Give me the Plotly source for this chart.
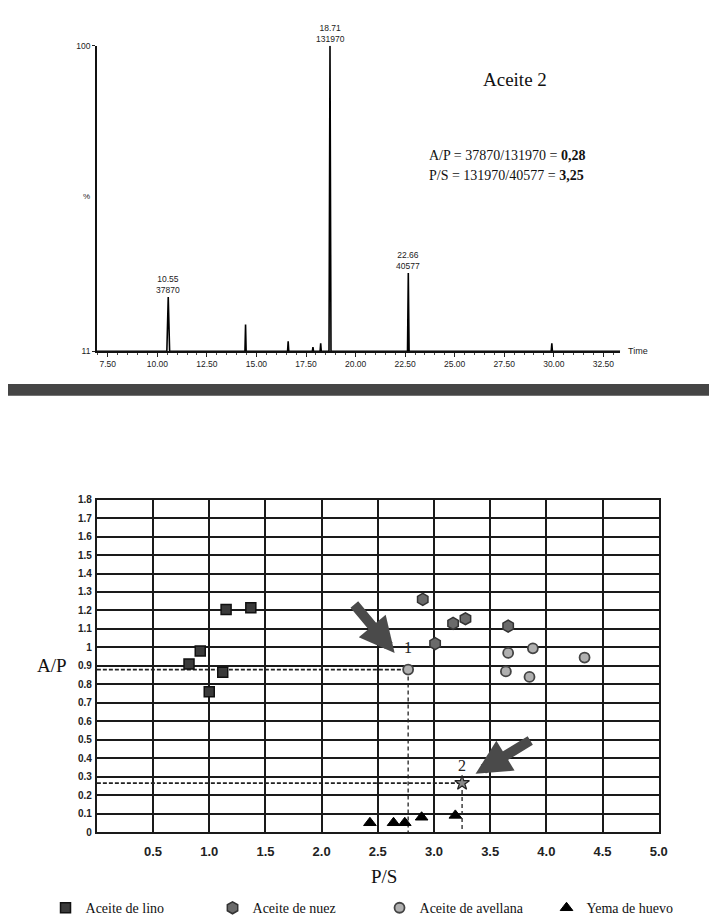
import plotly.graph_objects as go

W, H = 717, 921

# ---------------- Top chart: chromatogram data ----------------
peak_times = [10.55, 14.45, 16.60, 17.85, 18.24, 18.71, 22.66, 29.90]
peak_heights = [26.8, 18.8, 13.9, 12.2, 13.3, 100.0, 33.8, 13.3]
peak_halfwidth = [0.07, 0.03, 0.03, 0.03, 0.03, 0.05, 0.04, 0.03]
baseline = 11
time_start, time_end = 6.95, 33.35
labeled_peaks = [(10.55, 26.8, "10.55", "37870"),
                 (18.71, 100.0, "18.71", "131970"),
                 (22.66, 33.8, "22.66", "40577")]
time_ticks = [7.5, 10.0, 12.5, 15.0, 17.5, 20.0, 22.5, 25.0, 27.5, 30.0, 32.5]
time_tick_text = ["7.50", "10.00", "12.50", "15.00", "17.50", "20.00", "22.50",
                  "25.00", "27.50", "30.00", "32.50"]

# ---------------- Bottom chart: scatter data ----------------
lino_ps = [0.82, 0.92, 1.00, 1.12, 1.15, 1.37]
lino_ap = [0.91, 0.98, 0.76, 0.865, 1.205, 1.215]
nuez_ps = [2.90, 3.01, 3.17, 3.28, 3.66]
nuez_ap = [1.26, 1.02, 1.13, 1.155, 1.115]
avellana_ps = [2.77, 3.66, 3.88, 3.64, 3.85, 4.34]
avellana_ap = [0.88, 0.97, 0.995, 0.87, 0.84, 0.945]
huevo_ps = [2.43, 2.64, 2.74, 2.89, 3.19]
huevo_ap = [0.05, 0.05, 0.05, 0.08, 0.09]
sample1 = (2.77, 0.88)
sample2 = (3.25, 0.265)
ap_ticks = [1.8, 1.7, 1.6, 1.5, 1.4, 1.3, 1.2, 1.1, 1.0, 0.9, 0.8, 0.7, 0.6,
            0.5, 0.4, 0.3, 0.2, 0.1, 0.0]
ap_tick_text = ["1.8", "1.7", "1.6", "1.5", "1.4", "1.3", "1.2", "1.1", "1", "0.9",
                "0.8", "0.7", "0.6", "0.5", "0.4", "0.3", "0.2", "0.1", "0"]
ps_ticks = [0.5, 1.0, 1.5, 2.0, 2.5, 3.0, 3.5, 4.0, 4.5, 5.0]
ps_tick_text = ["0.5", "1.0", "1.5", "2.0", "2.5", "3.0", "3.5", "4.0", "4.5", "5.0"]

SERIF = "Liberation Serif"
SANS = "Liberation Sans"

def px_x(p):
    return p / W

def px_y(p):
    return 1 - p / H

fig = go.Figure()

# chromatogram trace built from peak list
tx, ty = [time_start], [baseline]
for t, h, hw in zip(peak_times, peak_heights, peak_halfwidth):
    tx += [t - hw, t, t + hw]
    ty += [baseline, h, baseline]
tx.append(time_end)
ty.append(baseline)
fig.add_trace(go.Scatter(x=tx, y=ty, mode="lines", line=dict(color="black", width=1.6),
                         xaxis="x", yaxis="y", showlegend=False, hoverinfo="skip"))

# bottom scatter: dashed guide lines (horizontal and vertical)
for (ps, ap) in (sample1, sample2):
    fig.add_trace(go.Scatter(x=[0, ps], y=[ap, ap], mode="lines",
                             line=dict(color="#222", width=1.8, dash="4px,2px"),
                             xaxis="x2", yaxis="y2", showlegend=False, hoverinfo="skip"))
    fig.add_trace(go.Scatter(x=[ps, ps], y=[ap, 0], mode="lines",
                             line=dict(color="#222", width=1.3, dash="4px,3px"),
                             xaxis="x2", yaxis="y2", showlegend=False, hoverinfo="skip"))

fig.add_trace(go.Scatter(x=lino_ps, y=lino_ap, mode="markers", name="Aceite de lino",
                         marker=dict(symbol="square", size=10, color="#3a3a3a",
                                     line=dict(color="#111", width=1.5)),
                         xaxis="x2", yaxis="y2"))
fig.add_trace(go.Scatter(x=nuez_ps, y=nuez_ap, mode="markers", name="Aceite de nuez",
                         marker=dict(symbol="hexagon", size=12, color="#6a6a6a",
                                     line=dict(color="#333", width=1.5)),
                         xaxis="x2", yaxis="y2"))
fig.add_trace(go.Scatter(x=avellana_ps, y=avellana_ap, mode="markers", name="Aceite de avellana",
                         marker=dict(symbol="circle", size=10, color="#b0b0b0",
                                     line=dict(color="#444", width=1.8)),
                         xaxis="x2", yaxis="y2"))
fig.add_trace(go.Scatter(x=huevo_ps, y=huevo_ap, mode="markers", name="Yema de huevo",
                         marker=dict(symbol="triangle-up", size=11, color="black",
                                     line=dict(color="black", width=1)),
                         xaxis="x2", yaxis="y2"))
fig.add_trace(go.Scatter(x=[sample2[0]], y=[sample2[1]], mode="markers",
                         marker=dict(symbol="star", size=11, color="#888",
                                     line=dict(color="#222", width=1.2)),
                         xaxis="x2", yaxis="y2", showlegend=False, hoverinfo="skip"))

def paper_text(x, y, text, family, size, xanchor="center", color="#111"):
    return dict(x=px_x(x), y=px_y(y), xref="paper", yref="paper", text=text,
                showarrow=False, xanchor=xanchor, yanchor="middle",
                font=dict(family=family, size=size, color=color))

annotations = []
for t, h, l1, l2 in labeled_peaks:
    annotations.append(dict(x=t, y=h, xref="x", yref="y", text=f"{l1}<br>{l2}",
                            showarrow=False, xanchor="center", yanchor="bottom", yshift=0,
                            font=dict(family=SANS, size=8.5, color="#222")))
annotations += [
    paper_text(626, 342, "Time", SANS, 9, xanchor="left", color="#222"),
    paper_text(80, 186, "%", SANS, 8, color="#222"),
    paper_text(513, 67, "Aceite 2", SERIF, 19),
    paper_text(424, 144, "A/P = 37870/131970 = <b>0,28</b>", SERIF, 14, xanchor="left"),
    paper_text(424, 164, "P/S = 131970/40577 = <b>3,25</b>", SERIF, 14, xanchor="left"),
    paper_text(381, 873, "P/S", SERIF, 19),
    paper_text(45, 660, "A/P", SERIF, 19),
    # bottom chart labels and arrows
    dict(x=sample1[0], y=sample1[1], xref="x2", yref="y2", text="1", showarrow=False,
         xanchor="center", yanchor="middle", yshift=22,
         font=dict(family=SERIF, size=16, color="#222")),
    dict(x=sample2[0], y=sample2[1], xref="x2", yref="y2", text="2", showarrow=False,
         xanchor="center", yanchor="middle", yshift=18,
         font=dict(family=SERIF, size=16, color="#222")),
    dict(x=2.65, y=0.97, ax=2.28, ay=1.24, xref="x2", yref="y2", axref="x2", ayref="y2",
         showarrow=True, arrowhead=2, arrowsize=0.7, arrowwidth=10, arrowcolor="#4a4a4a",
         text=""),
    dict(x=3.37, y=0.315, ax=3.87, ay=0.5, xref="x2", yref="y2", axref="x2", ayref="y2",
         showarrow=True, arrowhead=2, arrowsize=0.7, arrowwidth=10, arrowcolor="#4a4a4a",
         text=""),
]

shapes = [dict(type="rect", xref="paper", yref="paper", x0=0, x1=1,
               y0=px_y(387), y1=px_y(375), fillcolor="#454545", line=dict(width=0),
               layer="below")]

fig.update_layout(
    width=W, height=H, margin=dict(l=0, r=0, t=0, b=0),
    paper_bgcolor="white", plot_bgcolor="white",
    showlegend=True,
    legend=dict(orientation="h", x=px_x(38), y=px_y(905), xanchor="left", yanchor="middle",
                entrywidth=122, entrywidthmode="pixels", itemwidth=30,
                font=dict(family=SERIF, size=14, color="#111"),
                itemsizing="trace", tracegroupgap=0, bgcolor="rgba(0,0,0,0)"),
    xaxis=dict(domain=[px_x(90), px_x(620)], range=[time_start, time_end],
               showgrid=False, zeroline=False, showline=True, linecolor="#111", linewidth=1.5,
               tickvals=time_ticks, ticktext=time_tick_text, ticks="outside", ticklen=4,
               tickcolor="#222", tickfont=dict(family=SANS, size=8.5, color="#222"),
               minor=dict(dtick=0.5, ticks="outside", ticklen=2, tickcolor="#444", showgrid=False),
               anchor="y", fixedrange=True),
    yaxis=dict(domain=[px_y(342), px_y(33)], range=[baseline, 100],
               showgrid=False, zeroline=False, showline=True, linecolor="#111", linewidth=1.5,
               tickvals=[11, 100], ticktext=["11", "100"], ticks="outside", ticklen=3,
               tickcolor="#222", tickfont=dict(family=SANS, size=8.5, color="#222"),
               anchor="x", fixedrange=True),
    xaxis2=dict(domain=[px_x(90), px_x(659)], range=[0, 5],
                showgrid=True, gridcolor="#1a1a1a", gridwidth=2, zeroline=False,
                showline=True, linecolor="#1a1a1a", linewidth=2, mirror=True,
                tickvals=ps_ticks, ticktext=ps_tick_text, ticks="",
                tickfont=dict(family=SANS, size=13, color="#222", weight="bold"),
                ticklabelstandoff=6, anchor="y2", fixedrange=True),
    yaxis2=dict(domain=[px_y(828), px_y(492)], range=[0, 1.8],
                showgrid=True, gridcolor="#1a1a1a", gridwidth=2, zeroline=False,
                showline=True, linecolor="#1a1a1a", linewidth=2, mirror=True,
                tickvals=ap_ticks, ticktext=ap_tick_text, ticks="",
                tickfont=dict(family=SANS, size=10, color="#222", weight="bold"),
                ticklabelstandoff=1, anchor="x2", fixedrange=True),
    annotations=annotations,
    shapes=shapes,
)

fig.write_html("out.html")
